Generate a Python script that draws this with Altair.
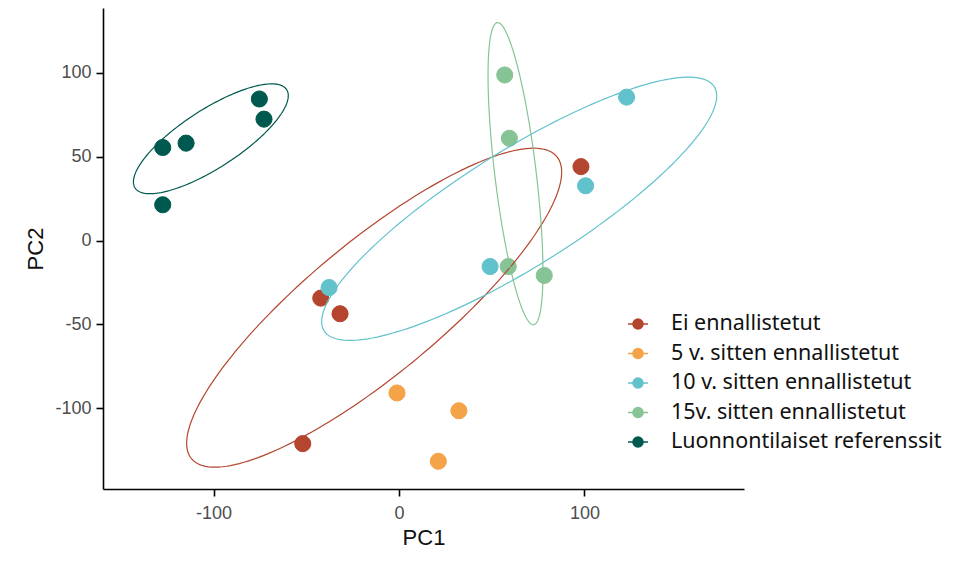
import numpy as np
import pandas as pd
import altair as alt

# ---- data ----
groups = ["Ei ennallistetut", "5 v. sitten ennallistetut", "10 v. sitten ennallistetut",
          "15v. sitten ennallistetut", "Luonnontilaiset referenssit"]
colors = ["#B4452F", "#F4A348", "#62C2CC", "#86C496", "#00594F"]

pt_group = [0, 0, 0, 0,
            1, 1, 1,
            2, 2, 2, 2,
            3, 3, 3, 3,
            4, 4, 4, 4, 4]
pc1 = [98.1, -42.2, -31.8, -51.9,
       -1.1, 32.3, 21.2,
       122.7, 100.6, 49.1, -37.7,
       57.0, 59.5, 58.9, 78.3,
       -127.4, -114.8, -75.3, -72.8, -127.4]
pc2 = [44.0, -34.3, -43.6, -121.0,
       -90.8, -101.4, -131.5,
       85.4, 32.6, -15.5, -28.0,
       98.6, 60.9, -15.5, -20.8,
       55.4, 58.0, 84.3, 72.3, 21.3]

# confidence ellipses (centre, half-width, half-height, tilt correlation)
ell_group = [0, 2, 3, 4]
ell_cx = [-13.4, 64.8, 62.8, -101.45]
ell_cy = [-40.0, 18.9, 39.8, 60.6]
ell_rx = [101.1, 106.5, 14.8, 41.75]
ell_ry = [95.0, 78.4, 90.0, 32.7]
ell_rho = [0.85, 0.857, -0.65, 0.785]

x_ticks = [-100, 0, 100]
y_ticks = [-100, -50, 0, 50, 100]

# ---- tables ----
pts = pd.DataFrame({"group": [groups[g] for g in pt_group], "PC1": pc1, "PC2": pc2})

rows = []
t = np.linspace(0, 2 * np.pi, 181)
for g, cx, cy, rx, ry, rho in zip(ell_group, ell_cx, ell_cy, ell_rx, ell_ry, ell_rho):
    phi = np.arccos(rho)
    xs = cx + rx * np.cos(t)
    ys = cy + ry * np.cos(t - phi)
    for i, (xv, yv) in enumerate(zip(xs, ys)):
        rows.append({"group": groups[g], "PC1": xv, "PC2": yv, "idx": i})
ell = pd.DataFrame(rows)

W, H = 641, 481
xdom = [-159.6, 186.0]
ydom = [-148.0, 138.5]

xscale = alt.Scale(domain=xdom, nice=False, zero=False)
yscale = alt.Scale(domain=ydom, nice=False, zero=False)
cscale = alt.Scale(domain=groups, range=colors)

xaxis = alt.Axis(values=x_ticks, title="PC1", grid=False, labelExpr="'' + datum.value",
                 domainColor="black", domainWidth=1.6, tickColor="black", tickWidth=1.6,
                 tickSize=7, labelPadding=8, labelFont="Liberation Sans", labelFontSize=18,
                 labelColor="#4D4D4D", titleFont="Liberation Sans", titleFontSize=22,
                 titleFontWeight="normal", titleColor="#111111", titleY=55,
                 titleBaseline="alphabetic")
yaxis = alt.Axis(values=y_ticks, title="PC2", grid=False, labelExpr="'' + datum.value",
                 domainColor="black", domainWidth=1.6, tickColor="black", tickWidth=1.6,
                 tickSize=7, labelPadding=5, labelFont="Liberation Sans", labelFontSize=18,
                 labelColor="#4D4D4D", titleFont="Liberation Sans", titleFontSize=22,
                 titleFontWeight="normal", titleColor="#111111", titleX=-61, titleY=H / 2,
                 titleAngle=-90, titleAlign="center", titleBaseline="alphabetic")

sym = "M-1,0L1,0M0.5,0A0.5,0.5,0,1,1,-0.5,0A0.5,0.5,0,1,1,0.5,0Z"
leg = alt.Legend(title=None, orient="none", legendX=524, legendY=305, padding=0,
                 symbolType=sym, symbolSize=400, symbolStrokeWidth=1.6,
                 labelFont="Noto Sans", labelFontSize=21.5, labelColor="#111111",
                 labelOffset=22, rowPadding=7.5, labelLimit=400)

points = alt.Chart(pts).mark_circle(size=260, opacity=1, strokeWidth=1).encode(
    x=alt.X("PC1:Q", scale=xscale, axis=xaxis),
    y=alt.Y("PC2:Q", scale=yscale, axis=yaxis),
    fill=alt.Fill("group:N", scale=cscale, legend=leg, sort=groups),
    stroke=alt.Stroke("group:N", scale=cscale, legend=leg, sort=groups),
)

lines = alt.Chart(ell).mark_line(strokeWidth=1.2).encode(
    x=alt.X("PC1:Q", scale=xscale),
    y=alt.Y("PC2:Q", scale=yscale),
    color=alt.Color("group:N", scale=cscale, legend=None),
    detail="group:N",
    order="idx:Q",
)

chart = alt.layer(points, lines).properties(
    width=W, height=H,
    autosize=alt.AutoSizeParams(type="none"),
    padding={"left": 95, "top": 0, "right": 200, "bottom": 60},
    background="white",
).configure_view(strokeWidth=0)

chart.save("out.html", embed_options={"renderer": "svg", "actions": False})
